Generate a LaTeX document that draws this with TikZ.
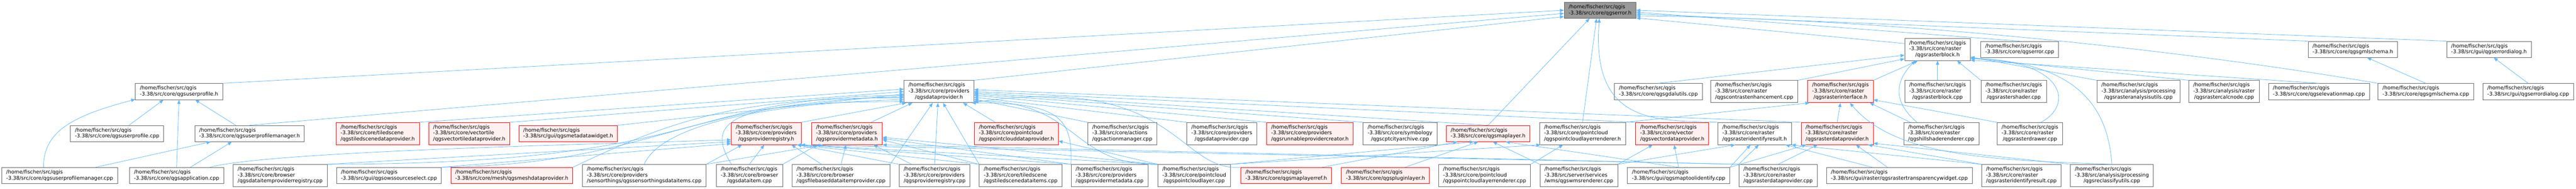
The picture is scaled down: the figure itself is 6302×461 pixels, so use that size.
\documentclass[tikz,border=0pt]{standalone}
\usepackage{fontspec}
\usepackage{tikz}
\usetikzlibrary{arrows.meta}
\newfontfamily\dxfont{DejaVu Sans}
\definecolor{edgeblue}{HTML}{63B8FF}
\definecolor{boxgray}{HTML}{666666}
\definecolor{truncfill}{HTML}{FFF0F0}
\definecolor{mainfill}{HTML}{999999}
\newcommand{\twol}[1]{\begin{tabular}{@{}l@{}}/home/fischer/src/qgis\\#1\end{tabular}}
\newcommand{\threel}[2]{\begin{tabular}{@{}l@{}}/home/fischer/src/qgis\\#1\\\multicolumn{1}{@{}c@{}}{#2}\end{tabular}}
\tikzset{filebox/.style={draw=boxgray,fill=white,line width=1pt,inner xsep=11pt,inner ysep=5pt,font=\dxfont\fontsize{12.5}{14.7}\selectfont}}
\tikzset{redbox/.style={filebox,draw=red,fill=truncfill}}
\tikzset{mainbox/.style={filebox,fill=mainfill}}
\tikzset{dep/.style={edgeblue,line width=1pt,-{Triangle[length=10pt,width=8pt]}}}

\begin{document}
\begin{tikzpicture}[x=1pt,y=-1pt]
    \useasboundingbox (0,0) rectangle (6302,461);
    \node[mainbox] (err) at (3914.5,25) {\twol{-3.38/src/core/qgserror.h}};
    \node[filebox] (rblkh) at (4740,120.5) {\threel{-3.38/src/core/raster}{/qgsrasterblock.h}};
    \node[filebox] (errcpp) at (4941,120.5) {\twol{-3.38/src/core/qgserror.cpp}};
    \node[filebox] (gmlh) at (5756,120.5) {\twol{-3.38/src/core/qgsgmlschema.h}};
    \node[filebox] (dlgh) at (6089,120.5) {\twol{-3.38/src/gui/qgserrordialog.h}};

    \node[filebox] (uph) at (438,223.5) {\twol{-3.38/src/core/qgsuserprofile.h}};
    \node[filebox] (dph) at (2297,223.5) {\threel{-3.38/src/core/providers}{/qgsdataprovider.h}};
    \node[filebox] (gdal) at (4057,223.5) {\twol{-3.38/src/core/qgsgdalutils.cpp}};
    \node[filebox] (contrast) at (4291.5,223.5) {\threel{-3.38/src/core/raster}{/qgscontrastenhancement.cpp}};
    \node[redbox] (rifaceh) at (4502.5,223.5) {\threel{-3.38/src/core/raster}{/qgsrasterinterface.h}};
    \node[filebox] (rblkcpp) at (4740,223.5) {\threel{-3.38/src/core/raster}{/qgsrasterblock.cpp}};
    \node[filebox] (shader) at (4926.5,223.5) {\threel{-3.38/src/core/raster}{/qgsrastershader.cpp}};
    \node[filebox] (ranalysis) at (5231.5,223.5) {\threel{-3.38/src/analysis/processing}{/qgsrasteranalysisutils.cpp}};
    \node[filebox] (rcalc) at (5441,223.5) {\threel{-3.38/src/analysis/raster}{/qgsrastercalcnode.cpp}};
    \node[filebox] (elev) at (5673,223.5) {\twol{-3.38/src/core/qgselevationmap.cpp}};
    \node[filebox] (gmlcpp) at (5934.5,223.5) {\twol{-3.38/src/core/qgsgmlschema.cpp}};
    \node[filebox] (dlgcpp) at (6185,223.5) {\twol{-3.38/src/gui/qgserrordialog.cpp}};

    \node[filebox] (upcpp) at (286.5,326) {\twol{-3.38/src/core/qgsuserprofile.cpp}};
    \node[filebox] (upmh) at (610.5,326) {\twol{-3.38/src/core/qgsuserprofilemanager.h}};
    \node[redbox] (tsdph) at (924,326) {\threel{-3.38/src/core/tiledscene}{/qgstiledscenedataprovider.h}};
    \node[redbox] (vtdph) at (1148,326) {\threel{-3.38/src/core/vectortile}{/qgsvectortiledataprovider.h}};
    \node[redbox] (metaw) at (1390,326) {\twol{-3.38/src/gui/qgsmetadatawidget.h}};
    \node[redbox] (pregh) at (1874.5,326) {\threel{-3.38/src/core/providers}{/qgsproviderregistry.h}};
    \node[redbox] (pmetah) at (2072,326) {\threel{-3.38/src/core/providers}{/qgsprovidermetadata.h}};
    \node[redbox] (pcdph) at (2486.5,326) {\threel{-3.38/src/core/pointcloud}{/qgspointclouddataprovider.h}};
    \node[filebox] (actions) at (2745.5,326) {\threel{-3.38/src/core/actions}{/qgsactionmanager.cpp}};
    \node[filebox] (dpcpp) at (2989,326) {\threel{-3.38/src/core/providers}{/qgsdataprovider.cpp}};
    \node[redbox] (runnable) at (3204.5,326) {\threel{-3.38/src/core/providers}{/qgsrunnableprovidercreator.h}};
    \node[filebox] (cpt) at (3425,326) {\threel{-3.38/src/core/symbology}{/qgscptcityarchive.cpp}};
    \node[redbox] (mlh) at (3640.5,326) {\twol{-3.38/src/core/qgsmaplayer.h}};
    \node[filebox] (pclrh) at (3871.5,326) {\threel{-3.38/src/core/pointcloud}{/qgspointcloudlayerrenderer.h}};
    \node[redbox] (vdph) at (4091,326) {\threel{-3.38/src/core/vector}{/qgsvectordataprovider.h}};
    \node[filebox] (ridrh) at (4292.5,326) {\threel{-3.38/src/core/raster}{/qgsrasteridentifyresult.h}};
    \node[redbox] (rdph) at (4494.5,326) {\threel{-3.38/src/core/raster}{/qgsrasterdataprovider.h}};
    \node[filebox] (hill) at (4749,326) {\threel{-3.38/src/core/raster}{/qgshillshaderenderer.cpp}};
    \node[filebox] (drawer) at (4966,326) {\threel{-3.38/src/core/raster}{/qgsrasterdrawer.cpp}};

    \node[filebox] (upmcpp) at (146,428.5) {\twol{-3.38/src/core/qgsuserprofilemanager.cpp}};
    \node[filebox] (app) at (432,428.5) {\twol{-3.38/src/core/qgsapplication.cpp}};
    \node[filebox] (diprcpp) at (685.5,428.5) {\threel{-3.38/src/core/browser}{/qgsdataitemproviderregistry.cpp}};
    \node[filebox] (ows) at (951.5,428.5) {\twol{-3.38/src/gui/qgsowssourceselect.cpp}};
    \node[redbox] (meshh) at (1252,428.5) {\twol{-3.38/src/core/mesh/qgsmeshdataprovider.h}};
    \node[filebox] (sensor) at (1576,428.5) {\threel{-3.38/src/core/providers}{/sensorthings/qgssensorthingsdataitems.cpp}};
    \node[filebox] (dicpp) at (1833.5,428.5) {\threel{-3.38/src/core/browser}{/qgsdataitem.cpp}};
    \node[filebox] (fbdip) at (2057.5,428.5) {\threel{-3.38/src/core/browser}{/qgsfilebaseddataitemprovider.cpp}};
    \node[filebox] (pregcpp) at (2286.5,428.5) {\threel{-3.38/src/core/providers}{/qgsproviderregistry.cpp}};
    \node[filebox] (tsdi) at (2497,428.5) {\threel{-3.38/src/core/tiledscene}{/qgstiledscenedataitems.cpp}};
    \node[filebox] (pmetacpp) at (2714.5,428.5) {\threel{-3.38/src/core/providers}{/qgsprovidermetadata.cpp}};
    \node[filebox] (pclcpp) at (2921.5,428.5) {\threel{-3.38/src/core/pointcloud}{/qgspointcloudlayer.cpp}};
    \node[redbox] (mlrefh) at (3146.5,428.5) {\twol{-3.38/src/core/qgsmaplayerref.h}};
    \node[redbox] (pluginh) at (3389.5,428.5) {\twol{-3.38/src/core/qgspluginlayer.h}};
    \node[filebox] (pclrcpp) at (3632,428.5) {\threel{-3.38/src/core/pointcloud}{/qgspointcloudlayerrenderer.cpp}};
    \node[filebox] (wms) at (3862.5,428.5) {\threel{-3.38/src/server/services}{/wms/qgswmsrenderer.cpp}};
    \node[filebox] (mti) at (4106.5,428.5) {\twol{-3.38/src/gui/qgsmaptoolidentify.cpp}};
    \node[filebox] (rdpcpp) at (4350,428.5) {\threel{-3.38/src/core/raster}{/qgsrasterdataprovider.cpp}};
    \node[filebox] (rtw) at (4646.5,428.5) {\twol{-3.38/src/gui/raster/qgsrastertransparencywidget.cpp}};
    \node[filebox] (ridrcpp) at (4945,428.5) {\threel{-3.38/src/core/raster}{/qgsrasteridentifyresult.cpp}};
    \node[filebox] (reclass) at (5166.5,428.5) {\threel{-3.38/src/analysis/processing}{/qgsreclassifyutils.cpp}};

        \path[draw,dep] (uph.north east) -- (err.west);
        \path[draw,dep] (upmh.north) -- (err.185);
        \path[draw,dep] (dph.north east) -- (err.190);
        \path[draw,dep] (mlh.north) -- (err.-142);
        \path[draw,dep] (pclrh.north) -- (err.-113);
        \path[draw,dep] (ridrh.north west) .. controls +(-150,-5) and +(-20,260) .. (err.-95);
        \path[draw,dep] (rblkh.170) -- (err.-12);
        \path[draw,dep] (errcpp.north) -- (err.-3);
        \path[draw,dep] (gmlh.north west) -- (err.-6);
        \path[draw,dep] (gmlcpp.north west) .. controls +(-500,-85) and +(600,5) .. (err.-9);
        \path[draw,dep] (dlgh.north west) -- (err.east);

        \path[draw,dep] (upcpp.35) -- (uph.-152);
        \path[draw,dep] (app.north) -- (uph.south);
        \path[draw,dep] (upmh.149) -- (uph.-27);
        \path[draw,dep] (upmcpp.153) .. controls +(0,-90) and +(-150,40) .. (uph.-170);
        \path[draw,dep] (upmcpp.13) -- (upmh.-168);
        \path[draw,dep] (app.31) -- (upmh.-155);

        \path[draw,dep] (tsdph.north east) -- (dph.176);
        \path[draw,dep] (vtdph.north east) -- (dph.180);
        \path[draw,dep] (metaw.north east) -- (dph.184);
        \path[draw,dep] (diprcpp.north east) .. controls +(949,-1) and +(-561,7) .. (dph.186);
        \path[draw,dep] (ows.north east) .. controls +(521,-8) and +(-561,17) .. (dph.188);
        \path[draw,dep] (meshh.north east) .. controls +(250,-120) and +(-400,0) .. (dph.190);
        \path[draw,dep] (sensor.north) .. controls +(44,-101) and +(-311,7) .. (dph.193);
        \path[draw,dep] (dicpp.148) .. controls +(-70,-111) and +(-411,0) .. (dph.196);
        \path[draw,dep] (pregh.north east) -- (dph.199);
        \path[draw,dep] (pmetah.25) -- (dph.-157);
        \path[draw,dep] (fbdip.north east) -- (dph.-119);
        \path[draw,dep] (pregcpp.north) -- (dph.-95);
        \path[draw,dep] (tsdi.north west) -- (dph.-70);
        \path[draw,dep] (pcdph.152) -- (dph.-25);
        \path[draw,dep] (actions.north west) -- (dph.-12);
        \path[draw,dep] (dpcpp.north west) -- (dph.-9);
        \path[draw,dep] (runnable.north west) -- (dph.-6);
        \path[draw,dep] (cpt.north west) -- (dph.-4);
        \path[draw,dep] (mlh.north) -- (dph.-2);
        \path[draw,dep] (vdph.north west) -- (dph.east);
        \path[draw,dep] (rdph.north west) -- (dph.3);
        \path[draw,dep] (pclcpp.north west) .. controls +(-212,4) and +(257,-1) .. (dph.-15);
        \path[draw,dep] (mlrefh.north west) .. controls +(-155,12) and +(497,-71) .. (dph.-17);
        \path[draw,dep] (pmetacpp.north west) .. controls +(4,-111) and +(217,-1) .. (dph.-19);

        \path[draw,dep] (app.14) .. controls +(150,-40) and +(-300,10) .. (pregh.190);
        \path[draw,dep] (diprcpp.north east) -- (pregh.193);
        \path[draw,dep] (ows.north east) -- (pregh.196);
        \path[draw,dep] (sensor.north east) -- (pregh.-155);
        \path[draw,dep] (dicpp.north) -- (pregh.-100);
        \path[draw,dep] (fbdip.150) -- (pregh.-24);
        \path[draw,dep] (pregcpp.north west) -- (pregh.-20);
        \path[draw,dep] (tsdi.north west) -- (pregh.-20);
        \path[draw,dep] (pmetacpp.north west) -- (pregh.-18);
        \path[draw,dep] (pclcpp.north west) -- (pregh.-18);
        \path[draw,dep] (rdpcpp.north west) -- (pregh.-20);

        \path[draw,dep] (sensor.north east) -- (pmetah.-155);
        \path[draw,dep] (dicpp.north east) -- (pmetah.-159);
        \path[draw,dep] (fbdip.north) -- (pmetah.-95);
        \path[draw,dep] (pregcpp.154) -- (pmetah.-23);
        \path[draw,dep] (tsdi.north west) -- (pmetah.-10);
        \path[draw,dep] (pmetacpp.north west) -- (pmetah.-8);
        \path[draw,dep] (pclcpp.north west) -- (pmetah.-6);
        \path[draw,dep] (rdpcpp.north west) -- (pmetah.south east);
        \path[draw,dep] (pclcpp.north west) -- (pcdph.-10);

        \path[draw,dep] (mlrefh.13) -- (mlh.-165);
        \path[draw,dep] (pluginh.23) -- (mlh.-140);
        \path[draw,dep] (pclcpp.north east) -- (mlh.-150);
        \path[draw,dep] (wms.north west) -- (mlh.-60);
        \path[draw,dep] (mti.north) -- (mlh.-25);
        \path[draw,dep] (pclrcpp.north east) -- (pclrh.-150);
        \path[draw,dep] (pclcpp.north east) -- (pclrh.-165);
        \path[draw,dep] (wms.north east) -- (vdph.-150);
        \path[draw,dep] (mti.north) -- (vdph.-80);

        \path[draw,dep] (wms.north east) -- (ridrh.-150);
        \path[draw,dep] (mti.north east) -- (ridrh.-110);
        \path[draw,dep] (rdpcpp.north west) -- (ridrh.-70);
        \path[draw,dep] (rtw.163) -- (ridrh.-20);
        \path[draw,dep] (ridrcpp.north west) -- (ridrh.south east);
        \path[draw,dep] (rdpcpp.north) -- (rdph.-150);
        \path[draw,dep] (rtw.145) -- (rdph.-31);
        \path[draw,dep] (mti.north east) -- (rdph.-160);
        \path[draw,dep] (ridrcpp.north west) -- (rdph.-20);
        \path[draw,dep] (reclass.north west) -- (rdph.-15);

        \path[draw,dep] (rdph.north) -- (rifaceh.south);
        \path[draw,dep] (hill.160) -- (rifaceh.-21);
        \path[draw,dep] (drawer.north west) -- (rifaceh.-14);
        \path[draw,dep] (pclrh.north east) -- (rifaceh.200);
        \path[draw,dep] (reclass.north) .. controls +(-300,-10) and +(110,130) .. (rifaceh.-50);

        \path[draw,dep] (rifaceh.north east) -- (rblkh.-150);
        \path[draw,dep] (gdal.north) -- (rblkh.190);
        \path[draw,dep] (contrast.north east) -- (rblkh.196);
        \path[draw,dep] (hill.155) .. controls +(-60,-50) and +(-50,50) .. (rblkh.207);
        \path[draw,dep] (rblkcpp.north) -- (rblkh.south);
        \path[draw,dep] (shader.north west) -- (rblkh.-30);
        \path[draw,dep] (ranalysis.north west) -- (rblkh.-13);
        \path[draw,dep] (rcalc.north west) -- (rblkh.-15);
        \path[draw,dep] (elev.north) -- (rblkh.-18);
        \path[draw,dep] (drawer.46) .. controls +(78,-39) and +(239,8) .. (rblkh.-15);
        \path[draw,dep] (reclass.north) .. controls +(-10,-150) and +(250,10) .. (rblkh.-15);

        \path[draw,dep] (gmlcpp.north) -- (gmlh.-30);
        \path[draw,dep] (dlgcpp.north) -- (dlgh.-60);
\end{tikzpicture}
\end{document}
